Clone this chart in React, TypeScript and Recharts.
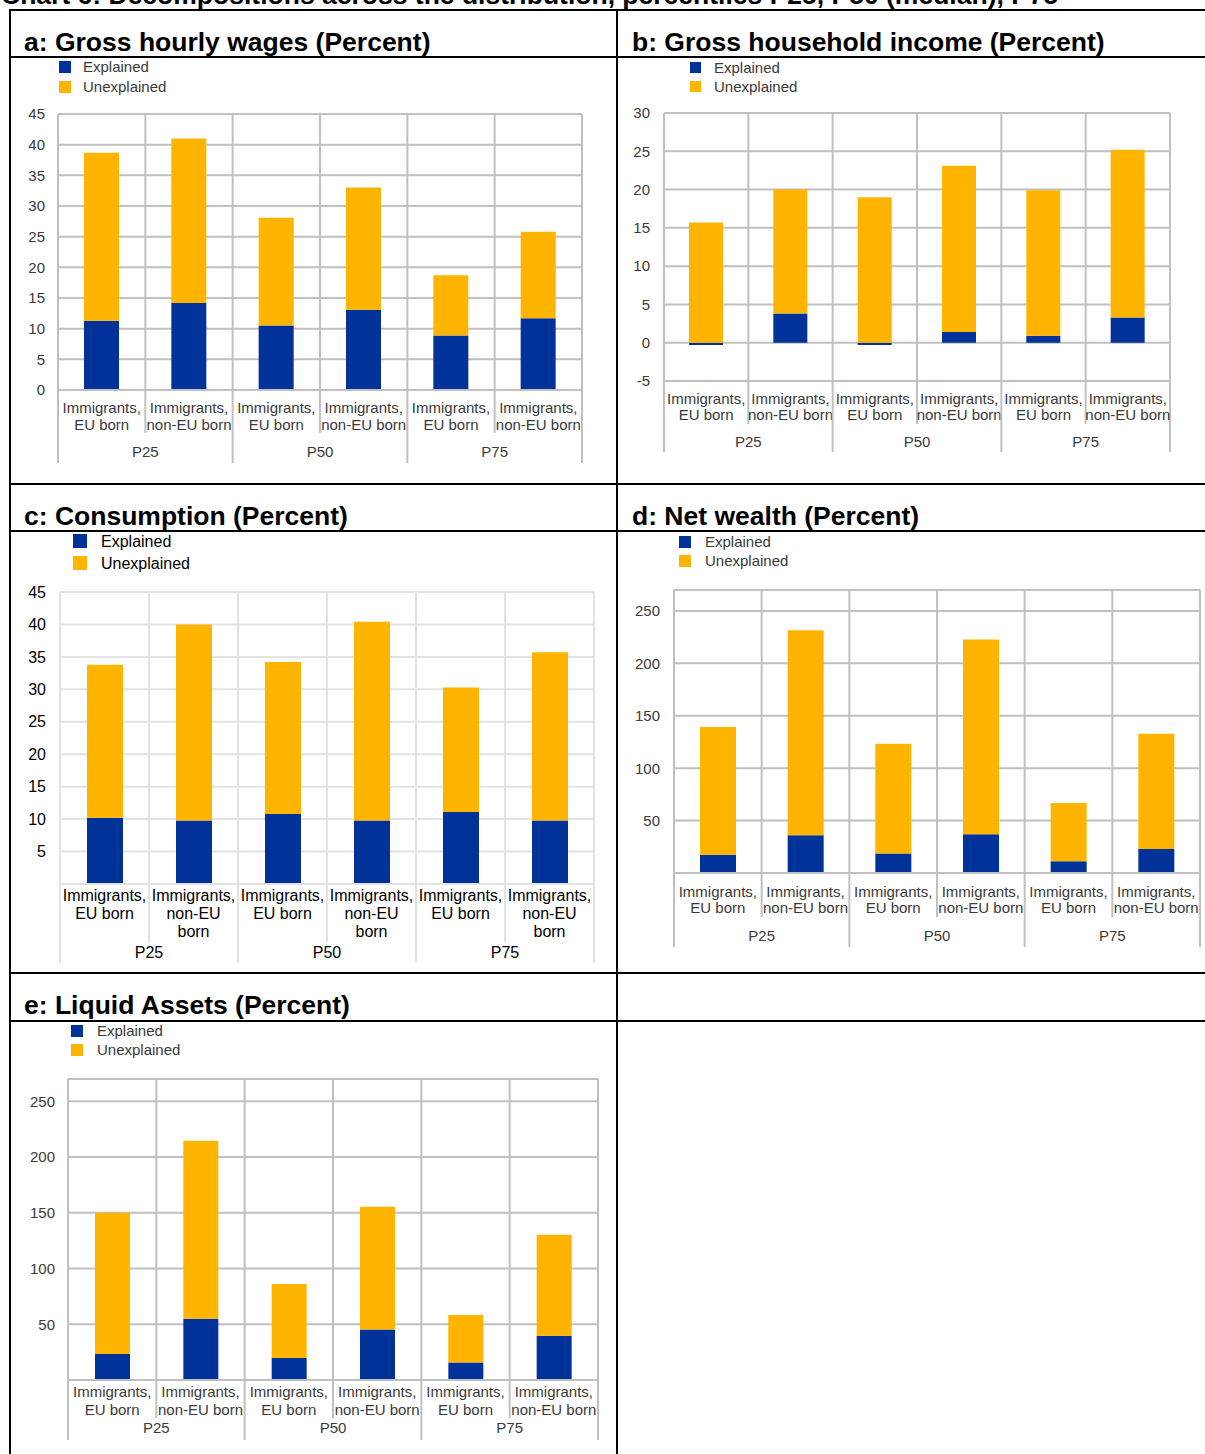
import React from "react";
import { BarChart, Bar, XAxis, YAxis, CartesianGrid } from "recharts";

// Shared categories for every panel: percentile groups and the two immigrant groups.
const groups = ["P25", "P50", "P75"];
const categories = ["Immigrants, EU born", "Immigrants, non-EU born"];

// Values in order P25 EU, P25 non-EU, P50 EU, P50 non-EU, P75 EU, P75 non-EU.
const wagesExplained = [11.3, 14.2, 10.5, 13.1, 8.9, 11.7];
const wagesUnexplained = [27.4, 26.8, 17.6, 19.9, 9.8, 14.1];

const incomeExplained = [-0.3, 3.8, -0.3, 1.4, 0.9, 3.3];
const incomeUnexplained = [15.7, 16.2, 19.0, 21.7, 19.0, 21.9];

const consumptionExplained = [10.2, 9.8, 10.8, 9.8, 11.1, 9.8];
const consumptionUnexplained = [23.6, 30.2, 23.4, 30.6, 19.2, 25.9];

const wealthExplained = [17.4, 36.1, 18.7, 37.0, 11.1, 22.8];
const wealthUnexplained = [121.8, 195.5, 104.7, 185.8, 55.7, 110.1];

const liquidExplained = [23.4, 55.0, 19.8, 45.2, 15.6, 39.8];
const liquidUnexplained = [126.6, 159.7, 66.4, 110.2, 42.8, 90.4];

const wagesTicks = [0, 5, 10, 15, 20, 25, 30, 35, 40, 45];
const incomeTicks = [-5, 0, 5, 10, 15, 20, 25, 30];
const consumptionTicks = [5, 10, 15, 20, 25, 30, 35, 40, 45];
const wealthTicks = [50, 100, 150, 200, 250];

const chartTitle =
  "Chart 6: Decompositions across the distribution, percentiles P25, P50 (median), P75";

const BLUE = "#003299";
const YELLOW = "#ffb400";
const FONT = "'Liberation Sans', Arial, sans-serif";

type Row = {
  key: string;
  group: string;
  category: string;
  explained: number;
  unexplained: number;
};

function buildRows(explained: number[], unexplained: number[]): Row[] {
  const rows: Row[] = [];
  groups.forEach((g, gi) => {
    categories.forEach((c, ci) => {
      const i = gi * categories.length + ci;
      rows.push({
        key: `${g}-${ci}`,
        group: g,
        category: c,
        explained: explained[i],
        unexplained: unexplained[i],
      });
    });
  });
  return rows;
}

function splitLabel(label: string, narrow: boolean) {
  const [head, tail] = label.split(", ");
  const lines = [head + ","];
  if (narrow && tail.startsWith("non-EU")) lines.push("non-EU", "born");
  else lines.push(tail);
  return lines;
}

type PanelProps = {
  left: number;
  top: number;
  width: number;
  height: number;
  explained: number[];
  unexplained: number[];
  domain: [number, number];
  ticks: number[];
  marginTop: number;
  marginRight: number;
  yWidth: number;
  xHeight: number;
  tickGap: number;
  barSize: number;
  fontSize: number;
  textColor: string;
  gridColor: string;
  firstLine: number;
  lineHeight: number;
  groupY: number;
  innerDepth: number;
  groupDepth: number;
  narrow?: boolean;
  legend: { x: number; y: number; box: number; textX: number; row: number };
};

function Panel(p: PanelProps) {
  const rows = buildRows(p.explained, p.unexplained);
  const plotW = p.width - p.yWidth - p.marginRight;
  const plotH = p.height - p.marginTop - p.xHeight;
  const bw = plotW / rows.length;

  // category labels, group labels and the separators of the two-level axis
  const renderTick = (props: any) => {
    const { x, y, index } = props;
    const row = rows[index];
    if (!row) return <g />;
    const lines = splitLabel(row.category, !!p.narrow);
    const leftEdge = x - bw / 2;
    const groupStart = index % categories.length === 0;
    return (
      <g>
        <line
          x1={leftEdge}
          x2={leftEdge}
          y1={y - plotH}
          y2={y + (groupStart ? p.groupDepth : p.innerDepth)}
          stroke={p.gridColor}
          strokeWidth={2}
        />
        {index === rows.length - 1 && (
          <line
            x1={x + bw / 2}
            x2={x + bw / 2}
            y1={y - plotH}
            y2={y + p.groupDepth}
            stroke={p.gridColor}
            strokeWidth={2}
          />
        )}
        <text
          textAnchor="middle"
          fill={p.textColor}
          fontSize={p.fontSize}
          fontFamily={FONT}
        >
          {lines.map((l, i) => (
            <tspan key={i} x={x} y={y + p.firstLine + i * p.lineHeight}>
              {l}
            </tspan>
          ))}
        </text>
        {groupStart && (
          <text
            x={x + bw / 2}
            y={y + p.groupY}
            textAnchor="middle"
            fill={p.textColor}
            fontSize={p.fontSize}
            fontFamily={FONT}
          >
            {row.group}
          </text>
        )}
      </g>
    );
  };

  const lg = p.legend;
  return (
    <div
      style={{
        position: "absolute",
        left: p.left,
        top: p.top,
        width: p.width,
        height: p.height,
      }}
    >
      <BarChart
        width={p.width}
        height={p.height}
        data={rows}
        stackOffset="sign"
        margin={{ top: p.marginTop, right: p.marginRight, bottom: 0, left: 0 }}
      >
        <CartesianGrid
          vertical={false}
          stroke={p.gridColor}
          strokeWidth={2}
        />
        <XAxis
          dataKey="key"
          height={p.xHeight}
          interval={0}
          tickLine={false}
          tickSize={0}
          tickMargin={0}
          axisLine={{ stroke: p.gridColor, strokeWidth: 2 }}
          tick={renderTick}
        />
        <YAxis
          type="number"
          width={p.yWidth}
          domain={p.domain}
          ticks={p.ticks}
          interval={0}
          allowDataOverflow
          tickLine={false}
          axisLine={false}
          tickSize={0}
          tickMargin={p.tickGap}
          tick={{ fill: p.textColor, fontSize: p.fontSize, fontFamily: FONT }}
        />
        <Bar
          dataKey="explained"
          name="Explained"
          stackId="s"
          fill={BLUE}
          barSize={p.barSize}
          isAnimationActive={false}
        />
        <Bar
          dataKey="unexplained"
          name="Unexplained"
          stackId="s"
          fill={YELLOW}
          barSize={p.barSize}
          isAnimationActive={false}
        />
      </BarChart>
      <svg
        width={220}
        height={50}
        style={{ position: "absolute", left: 0, top: 0, overflow: "visible" }}
      >
        {[
          { label: "Explained", color: BLUE },
          { label: "Unexplained", color: YELLOW },
        ].map((item, i) => {
          const cy = lg.y + i * lg.row;
          return (
            <g key={item.label}>
              <rect
                x={lg.x}
                y={cy - lg.box / 2}
                width={lg.box}
                height={lg.box}
                fill={item.color}
              />
              <text
                x={lg.textX}
                y={cy}
                dy="0.35em"
                fill={p.textColor}
                fontSize={p.fontSize}
                fontFamily={FONT}
              >
                {item.label}
              </text>
            </g>
          );
        })}
      </svg>
    </div>
  );
}

function Frame() {
  const hLines = [10, 57, 484, 531, 973, 1021];
  const vLines = [10, 617];
  const titles = [
    { text: "a: Gross hourly wages (Percent)", x: 24, y: 51 },
    { text: "b: Gross household income (Percent)", x: 632, y: 51 },
    { text: "c: Consumption (Percent)", x: 24, y: 525 },
    { text: "d: Net wealth (Percent)", x: 632, y: 525 },
    { text: "e: Liquid Assets (Percent)", x: 24, y: 1014 },
  ];
  return (
    <svg
      width={1205}
      height={1454}
      style={{ position: "absolute", left: 0, top: 0 }}
    >
      <text x={1} y={4} fontSize={26.5} fontWeight="bold" fontFamily={FONT}>
        {chartTitle}
      </text>
      {hLines.map((y) => (
        <rect key={`h${y}`} x={9} y={y - 1} width={1196} height={2} fill="#000" />
      ))}
      {vLines.map((x) => (
        <rect key={`v${x}`} x={x - 1} y={9} width={2} height={1445} fill="#000" />
      ))}
      {titles.map((t) => (
        <text
          key={t.text}
          x={t.x}
          y={t.y}
          fontSize={26.5}
          fontWeight="bold"
          fontFamily={FONT}
          fill="#000"
        >
          {t.text}
        </text>
      ))}
    </svg>
  );
}

export default function App() {
  return (
    <div
      style={{
        position: "absolute",
        left: 0,
        top: 0,
        width: 1205,
        height: 1454,
        overflow: "hidden",
        background: "#fff",
      }}
    >
      <Frame />
      <Panel
        left={12}
        top={57}
        width={603}
        height={427}
        explained={wagesExplained}
        unexplained={wagesUnexplained}
        domain={[0, 45]}
        ticks={wagesTicks}
        marginTop={57}
        marginRight={33}
        yWidth={46}
        xHeight={94}
        tickGap={13}
        barSize={35}
        fontSize={15}
        textColor="#3a3a3a"
        gridColor="#c0c0c0"
        firstLine={23}
        lineHeight={17}
        groupY={67}
        innerDepth={43}
        groupDepth={73}
        legend={{ x: 47, y: 10, box: 12, textX: 71, row: 20 }}
      />
      <Panel
        left={619}
        top={57}
        width={586}
        height={427}
        explained={incomeExplained}
        unexplained={incomeUnexplained}
        domain={[-5, 30]}
        ticks={incomeTicks}
        marginTop={56}
        marginRight={35}
        yWidth={45}
        xHeight={103}
        tickGap={14}
        barSize={34}
        fontSize={15}
        textColor="#3a3a3a"
        gridColor="#c0c0c0"
        firstLine={23}
        lineHeight={16}
        groupY={66}
        innerDepth={43}
        groupDepth={71}
        legend={{ x: 71, y: 10.5, box: 11, textX: 95, row: 19 }}
      />
      <Panel
        left={12}
        top={531}
        width={603}
        height={442}
        explained={consumptionExplained}
        unexplained={consumptionUnexplained}
        domain={[0, 45]}
        ticks={consumptionTicks}
        marginTop={61}
        marginRight={21}
        yWidth={48}
        xHeight={89}
        tickGap={14}
        barSize={36}
        fontSize={16}
        textColor="#000"
        gridColor="#e2e2e2"
        firstLine={17}
        lineHeight={18}
        groupY={74}
        innerDepth={58}
        groupDepth={79}
        narrow
        legend={{ x: 61, y: 10, box: 14, textX: 89, row: 22 }}
      />
      <Panel
        left={619}
        top={531}
        width={586}
        height={442}
        explained={wealthExplained}
        unexplained={wealthUnexplained}
        domain={[0, 270]}
        ticks={wealthTicks}
        marginTop={59}
        marginRight={5}
        yWidth={55}
        xHeight={100}
        tickGap={14}
        barSize={36}
        fontSize={15}
        textColor="#3a3a3a"
        gridColor="#c0c0c0"
        firstLine={24}
        lineHeight={16}
        groupY={68}
        innerDepth={44}
        groupDepth={74}
        legend={{ x: 60, y: 11, box: 12, textX: 86, row: 19 }}
      />
      <Panel
        left={12}
        top={1021}
        width={603}
        height={433}
        explained={liquidExplained}
        unexplained={liquidUnexplained}
        domain={[0, 270]}
        ticks={wealthTicks}
        marginTop={58}
        marginRight={17}
        yWidth={56}
        xHeight={74}
        tickGap={13}
        barSize={35}
        fontSize={15}
        textColor="#3a3a3a"
        gridColor="#c0c0c0"
        firstLine={17}
        lineHeight={18}
        groupY={53}
        innerDepth={38}
        groupDepth={60}
        legend={{ x: 59, y: 10, box: 12, textX: 85, row: 19 }}
      />
    </div>
  );
}
